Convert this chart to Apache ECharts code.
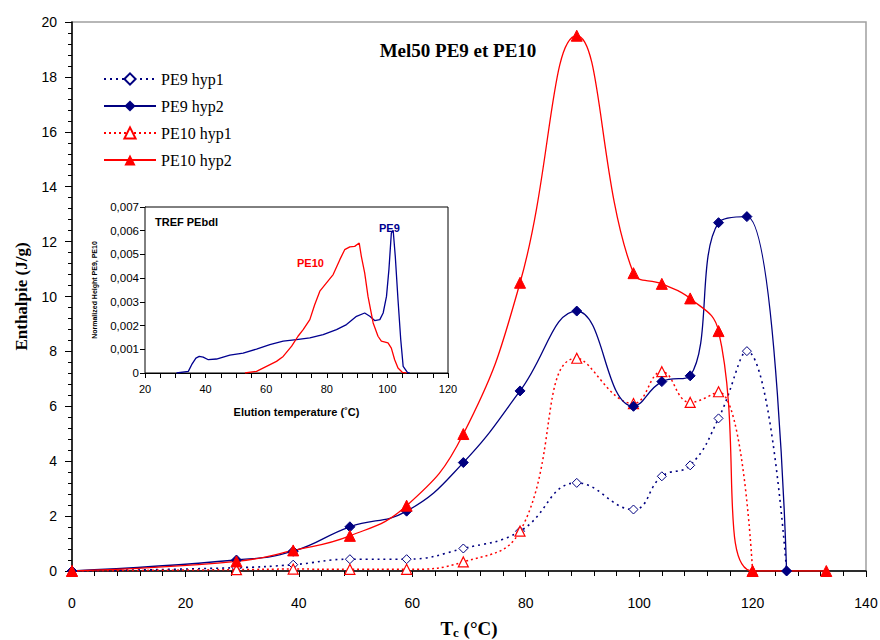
<!DOCTYPE html>
<html><head><meta charset="utf-8">
<script src="https://cdn.jsdelivr.net/npm/echarts/dist/echarts.min.js"></script>
<style>html,body{margin:0;padding:0;background:#fff}#c{width:880px;height:640px}</style>
</head><body><div id="c"></div><script>
// Main chart: crystallisation temperature Tc (°C) vs enthalpy (J/g)
const tcPE9  = [0, 29, 39, 49, 59, 69, 79, 89, 99, 104, 109, 114, 119, 126];
const pe9Hyp1 = [0, 0.12, 0.23, 0.43, 0.43, 0.82, 1.45, 3.21, 2.24, 3.45, 3.85, 5.56, 8.01, 0];
const pe9Hyp2 = [0, 0.40, 0.72, 1.61, 2.18, 3.95, 6.56, 9.47, 6.00, 6.90, 7.11, 12.69, 12.91, 0];
const tcPE10 = [0, 29, 39, 49, 59, 69, 79, 89, 99, 104, 109, 114, 120, 133];
const pe10Hyp1 = [0, 0.05, 0.07, 0.06, 0.06, 0.33, 1.45, 7.75, 6.10, 7.26, 6.14, 6.53, 0, null];
const pe10Hyp2 = [0, 0.35, 0.75, 1.28, 2.38, 4.99, 10.50, 19.50, 10.85, 10.46, 9.93, 8.74, 0, 0];
const xTicks = [0, 20, 40, 60, 80, 100, 120, 140];
const yTicks = [0, 2, 4, 6, 8, 10, 12, 14, 16, 18, 20];

// Inset: TREF PEbdl, elution temperature vs normalized height
const trefPE9T = [30.4, 34.3, 35.4, 36.8, 37.9, 39.2, 40.9, 43.6, 48.0, 52.4, 56.8, 61.2, 65.6, 70.0, 74.4, 78.8, 83.2, 86.5, 89.8, 92.5, 94.2, 95.8, 97.5, 98.6, 99.7, 100.5, 101.3, 101.9, 102.6, 103.5, 104.4, 105.2, 106.6, 107.4];
const trefPE9H = [0, 0.00007, 0.00035, 0.00063, 0.00070, 0.00067, 0.00056, 0.00059, 0.00075, 0.00084, 0.00101, 0.00120, 0.00134, 0.00141, 0.00148, 0.00162, 0.00183, 0.00204, 0.00239, 0.00253, 0.00239, 0.00221, 0.00225, 0.00253, 0.00323, 0.00436, 0.00590, 0.00602, 0.00492, 0.00309, 0.00141, 0.00028, 0.00003, 0];
const trefPE10T = [53.0, 56.8, 60.1, 63.4, 65.6, 68.4, 70.5, 72.2, 74.4, 76.0, 77.7, 79.9, 82.1, 84.3, 85.9, 87.6, 89.2, 90.7, 91.4, 92.5, 93.6, 95.3, 96.9, 98.0, 100.2, 101.3, 102.4, 103.5, 104.9, 106.3];
const trefPE10H = [0, 0.00007, 0.00028, 0.00049, 0.00070, 0.00113, 0.00155, 0.00183, 0.00225, 0.00288, 0.00345, 0.00380, 0.00415, 0.00478, 0.00520, 0.00532, 0.00534, 0.00548, 0.00492, 0.00422, 0.00323, 0.00211, 0.00155, 0.00134, 0.00127, 0.00105, 0.00056, 0.00021, 0.00003, 0];

const seriesNames = ['PE9 hyp1', 'PE9 hyp2', 'PE10 hyp1', 'PE10 hyp2'];
const NAVY = '#000080', RED = '#ff0000';
const zip = (xs, ys) => xs.map((x, i) => [x, ys[i] === null ? '-' : ys[i]]);

const serif = "'Liberation Serif', 'Times New Roman', serif";
const sans = "'Liberation Sans', Arial, sans-serif";

const chart = echarts.init(document.getElementById('c'), null, {renderer: 'svg'});
chart.setOption({
  animation: false,
  backgroundColor: '#fff',
  title: {
    text: 'Mel50 PE9 et PE10',
    left: 453, top: 36, textAlign: 'center',
    textStyle: {fontFamily: serif, fontSize: 19, fontWeight: 'bold', color: '#000'}
  },
  legend: {
    data: seriesNames,
    orient: 'vertical',
    left: 98, top: 66,
    itemWidth: 52, itemHeight: 14, itemGap: 11,
    textStyle: {fontFamily: serif, fontSize: 16, color: '#000'}
  },
  grid: [
    {left: 72, top: 22, right: 14, bottom: 69, show: true, borderColor: '#a0a0a0', borderWidth: 1.5, backgroundColor: '#fff', outerBoundsMode: 'none', containLabel: false},
    {left: 145, top: 207, width: 303, height: 166, show: true, borderColor: '#000', borderWidth: 1, backgroundColor: '#fff', z: 5, outerBoundsMode: 'none', containLabel: false}
  ],
  xAxis: [
    {
      gridIndex: 0, type: 'value', min: xTicks[0], max: xTicks[xTicks.length - 1], interval: 20,
      name: '{t|T}{s|c}{t| (°C)}', nameLocation: 'middle', nameGap: 47,
      nameTextStyle: {rich: {
        t: {fontFamily: serif, fontSize: 19, fontWeight: 'bold', color: '#000'},
        s: {fontFamily: serif, fontSize: 13, fontWeight: 'bold', color: '#000', padding: [8, 0, 0, 0]}
      }},
      axisLine: {lineStyle: {color: '#000', width: 1.5}},
      axisTick: {inside: false, length: 6, lineStyle: {color: '#000'}},
      minorTick: {show: true, splitNumber: 5, length: 5, lineStyle: {color: '#000'}},
      splitLine: {show: false},
      axisLabel: {fontFamily: sans, fontSize: 14, color: '#000', margin: 25}
    },
    {
      gridIndex: 1, type: 'value', min: 20, max: 120, interval: 20,
      name: 'Elution temperature (˚C)', nameLocation: 'middle', nameGap: 33,
      nameTextStyle: {fontFamily: sans, fontSize: 11, fontWeight: 'bold', color: '#000'},
      axisLine: {lineStyle: {color: '#000', width: 1}},
      axisTick: {length: 5, lineStyle: {color: '#000'}},
      minorTick: {show: true, splitNumber: 4, length: 5, lineStyle: {color: '#000'}},
      splitLine: {show: false},
      axisLabel: {fontFamily: sans, fontSize: 11, color: '#000', margin: 10}
    }
  ],
  yAxis: [
    {
      gridIndex: 0, type: 'value', min: yTicks[0], max: yTicks[yTicks.length - 1], interval: 2,
      name: 'Enthalpie (J/g)', nameLocation: 'middle', nameRotate: 90, nameGap: 42,
      nameTextStyle: {fontFamily: serif, fontSize: 17, fontWeight: 'bold', color: '#000'},
      axisLine: {show: true, lineStyle: {color: '#000', width: 1.5}},
      axisTick: {show: true, length: 7, lineStyle: {color: '#000'}},
      minorTick: {show: true, splitNumber: 5, length: 4, lineStyle: {color: '#000'}},
      splitLine: {show: false},
      axisLabel: {fontFamily: sans, fontSize: 14, color: '#000', margin: 15}
    },
    {
      gridIndex: 1, type: 'value', min: 0, max: 0.007, interval: 0.001,
      name: 'Normalized Height PE9, PE10', nameLocation: 'middle', nameRotate: 90, nameGap: 47,
      nameTextStyle: {fontFamily: sans, fontSize: 7, fontWeight: 'bold', color: '#000'},
      axisLine: {show: true, lineStyle: {color: '#000', width: 1}},
      axisTick: {show: true, length: 5, lineStyle: {color: '#000'}},
      splitLine: {show: false},
      axisLabel: {fontFamily: sans, fontSize: 11.5, color: '#000', margin: 6,
        formatter: v => v === 0 ? '0' : v.toFixed(3).replace('.', ',')}
    }
  ],
  series: [
    {
      name: seriesNames[0], type: 'line', xAxisIndex: 0, yAxisIndex: 0, smooth: 0.45,
      data: zip(tcPE9, pe9Hyp1),
      symbol: 'diamond', symbolSize: 9,
      lineStyle: {color: NAVY, width: 1.6, type: [2, 4]},
      itemStyle: {color: '#fff', borderColor: NAVY, borderWidth: 1}, z: 3
    },
    {
      name: seriesNames[1], type: 'line', xAxisIndex: 0, yAxisIndex: 0, smooth: 0.45,
      data: zip(tcPE9, pe9Hyp2),
      symbol: 'diamond', symbolSize: 10,
      lineStyle: {color: NAVY, width: 1.3},
      itemStyle: {color: NAVY, borderColor: NAVY}, z: 4
    },
    {
      name: seriesNames[2], type: 'line', xAxisIndex: 0, yAxisIndex: 0, smooth: 0.45,
      data: zip(tcPE10, pe10Hyp1),
      symbol: 'triangle', symbolSize: 10,
      lineStyle: {color: RED, width: 1.5, type: [2, 3]},
      itemStyle: {color: '#fff', borderColor: RED, borderWidth: 1.2}, z: 3
    },
    {
      name: seriesNames[3], type: 'line', xAxisIndex: 0, yAxisIndex: 0, smooth: 0.45,
      data: zip(tcPE10, pe10Hyp2),
      symbol: 'triangle', symbolSize: 11,
      lineStyle: {color: RED, width: 1.3},
      itemStyle: {color: RED, borderColor: RED}, z: 4
    },
    {
      name: 'TREF PE9', type: 'line', xAxisIndex: 1, yAxisIndex: 1, smooth: false,
      data: zip(trefPE9T, trefPE9H), showSymbol: false, symbol: 'none',
      lineStyle: {color: '#000090', width: 1.3}, z: 6
    },
    {
      name: 'TREF PE10', type: 'line', xAxisIndex: 1, yAxisIndex: 1, smooth: false,
      data: zip(trefPE10T, trefPE10H), showSymbol: false, symbol: 'none',
      lineStyle: {color: RED, width: 1.3}, z: 6
    }
  ],
  graphic: [
    {type: 'text', left: 155, top: 216, z: 10, style: {text: 'TREF PEbdl', font: "bold 11px 'Liberation Sans', Arial", fill: '#000'}},
    {type: 'text', left: 297, top: 257, z: 10, style: {text: 'PE10', font: "bold 11px 'Liberation Sans', Arial", fill: RED}},
    {type: 'text', left: 379, top: 222, z: 10, style: {text: 'PE9', font: "bold 11px 'Liberation Sans', Arial", fill: '#000090'}}
  ]
});
</script></body></html>
